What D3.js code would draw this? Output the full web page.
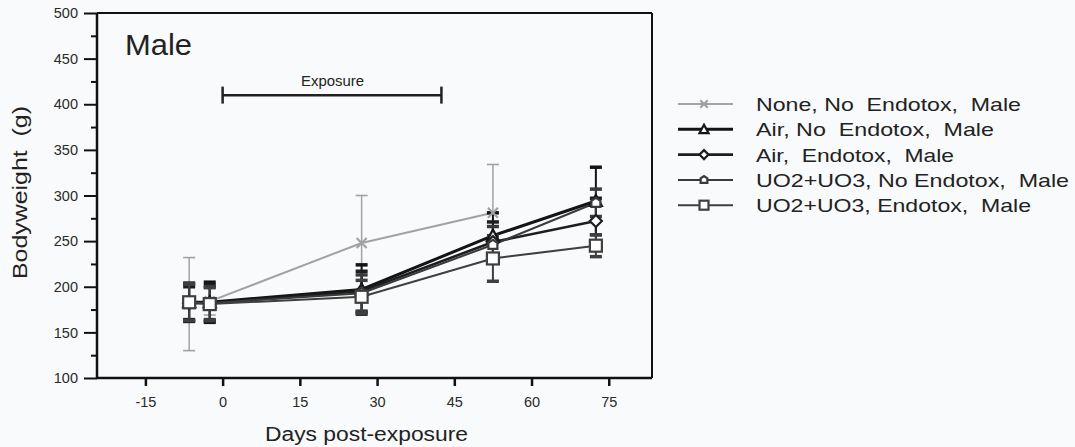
<!DOCTYPE html>
<html>
<head>
<meta charset="utf-8">
<script src="https://cdn.jsdelivr.net/npm/d3@7"></script>
<style>
  body { margin: 0; background: #f8fafb; }
  svg { display: block; font-family: "Liberation Sans", Arial, Helvetica, sans-serif; }
  svg text { white-space: pre; }
</style>
</head>
<body>
<svg id="chart" width="1075" height="447"></svg>
<script>
// data
let days = [-6.5, -2.5, 27, 52.5, 72.5]
let seriesNames = [
    "None, No  Endotox,  Male",
    "Air, No  Endotox,  Male",
    "Air,  Endotox,  Male",
    "UO2+UO3, No Endotox,  Male",
    "UO2+UO3, Endotox,  Male"
]
let noneMean = [181, 184, 248, 281, null]
let noneSd = [51, 15, 52, 53, null]
let airNoMean = [183, 183, 197, 256, 294]
let airNoSd = [21, 22, 27, 25, 37]
let airEndoMean = [182, 182, 195, 249, 272]
let airEndoSd = [18, 20, 22, 22, 25]
let uoNoMean = [183, 182, 193, 246, 292]
let uoNoSd = [20, 18, 20, 20, 15]
let uoEndoMean = [183, 181, 189, 231, 245]
let uoEndoSd = [20, 18, 18, 25, 12]
let xTicks = [-15, 0, 15, 30, 45, 60, 75]
let yTicks = [100, 150, 200, 250, 300, 350, 400, 450, 500]
let exposure = [0, 42.5]
let exposureLevel = 410

// legend text widths measured on the figure (the original font is wider than Arial)
let legendWidths = [265, 238, 198, 313, 275]

let svg = d3.select("#chart")

let xScale = d3.scaleLinear().domain([-24.4, 83.4]).range([97, 652])
let yScale = d3.scaleLinear().domain([100, 500]).range([378, 13])

let styles = [
    { color: "#a2a2a2", width: 2, sym: "x", capW: 1.6 },
    { color: "#141414", width: 3, sym: "tri", capW: 3.5 },
    { color: "#1e1e1e", width: 2.6, sym: "diamond", capW: 3.5 },
    { color: "#3a3a3a", width: 2, sym: "smallsq", capW: 3.5 },
    { color: "#3f3f3f", width: 2, sym: "square", capW: 3.5 }
]

let allMeans = [noneMean, airNoMean, airEndoMean, uoNoMean, uoEndoMean]
let allSds = [noneSd, airNoSd, airEndoSd, uoNoSd, uoEndoSd]

let series = seriesNames.map((name, i) => {
    return {
        name: name,
        style: styles[i],
        points: days.map((d, j) => ({ day: d, mean: allMeans[i][j], sd: allSds[i][j] }))
            .filter(p => p.mean !== null)
    }
})

// axes box
svg.append("line").attr("x1", 97).attr("x2", 652).attr("y1", 13).attr("y2", 13)
    .attr("stroke", "#111").attr("stroke-width", 2)
svg.append("line").attr("x1", 652).attr("x2", 652).attr("y1", 13).attr("y2", 378)
    .attr("stroke", "#111").attr("stroke-width", 2)

let xAxis = d3.axisBottom(xScale).tickValues(xTicks).tickSize(8).tickPadding(11)
    .tickFormat(d => String(d))
let gx = svg.append("g").attr("transform", "translate(0,378)").call(xAxis)
gx.select(".domain").attr("stroke", "#111").attr("stroke-width", 2.5)
    .attr("d", "M97,0H652")
gx.selectAll(".tick line").attr("stroke", "#111").attr("stroke-width", 2.5)
gx.selectAll(".tick text").attr("font-size", 14.5).attr("fill", "#2a2a2a")
    .attr("font-family", "Liberation Sans, Arial, sans-serif")

let minorTicks = d3.range(125, 500, 50)
let gyMinor = svg.append("g").attr("transform", "translate(97,0)")
    .call(d3.axisLeft(yScale).tickValues(minorTicks).tickSize(6).tickFormat(""))
gyMinor.select(".domain").remove()
gyMinor.selectAll(".tick line").attr("stroke", "#111").attr("stroke-width", 2)

let yAxis = d3.axisLeft(yScale).tickValues(yTicks).tickSize(13).tickPadding(6)
let gy = svg.append("g").attr("transform", "translate(97,0)").call(yAxis)
gy.select(".domain").attr("stroke", "#111").attr("stroke-width", 2.5).attr("d", "M0,13V378")
gy.selectAll(".tick line").attr("stroke", "#111").attr("stroke-width", 2)
gy.selectAll(".tick text").attr("font-size", 14.5).attr("fill", "#2a2a2a")
    .attr("font-family", "Liberation Sans, Arial, sans-serif")

// axis titles
svg.append("text").attr("x", 265).attr("y", 441)
    .attr("font-size", 20).attr("fill", "#222")
    .attr("textLength", 203).attr("lengthAdjust", "spacingAndGlyphs")
    .text("Days post-exposure")
svg.append("text").attr("transform", "translate(27,193) rotate(-90)")
    .attr("x", -86).attr("font-size", 20).attr("fill", "#222")
    .attr("textLength", 173).attr("lengthAdjust", "spacingAndGlyphs")
    .text("Bodyweight  (g)")

svg.append("text").attr("x", 125).attr("y", 55)
    .attr("font-size", 29).attr("fill", "#222")
    .attr("textLength", 67).attr("lengthAdjust", "spacingAndGlyphs")
    .text("Male")

// exposure bar
let ey = yScale(exposureLevel)
svg.append("line").attr("x1", xScale(exposure[0])).attr("x2", xScale(exposure[1]))
    .attr("y1", ey).attr("y2", ey).attr("stroke", "#222").attr("stroke-width", 2.5)
exposure.forEach(d => {
    svg.append("line").attr("x1", xScale(d)).attr("x2", xScale(d))
        .attr("y1", ey - 8.5).attr("y2", ey + 8.5).attr("stroke", "#222").attr("stroke-width", 2.5)
})
svg.append("text").attr("x", xScale(d3.mean(exposure)) - 31).attr("y", ey - 9)
    .attr("font-size", 14).attr("fill", "#222")
    .attr("textLength", 63).attr("lengthAdjust", "spacingAndGlyphs")
    .text("Exposure")

let drawSymbol = (g, sym, color, cx, cy, scale) => {
    let s = scale || 1
    if (sym === "x") {
        g.append("path")
            .attr("d", `M${cx - 5 * s},${cy - 5 * s}L${cx + 5 * s},${cy + 5 * s}M${cx - 5 * s},${cy + 5 * s}L${cx + 5 * s},${cy - 5 * s}`)
            .attr("stroke", color).attr("stroke-width", 2.2).attr("fill", "none")
    } else if (sym === "tri") {
        g.append("path")
            .attr("d", `M${cx},${cy - 6 * s}L${cx + 6 * s},${cy + 5 * s}L${cx - 6 * s},${cy + 5 * s}Z`)
            .attr("stroke", color).attr("stroke-width", 2.2).attr("fill", "#fff")
    } else if (sym === "diamond") {
        g.append("path")
            .attr("d", `M${cx},${cy - 6 * s}L${cx + 6 * s},${cy}L${cx},${cy + 6 * s}L${cx - 6 * s},${cy}Z`)
            .attr("stroke", color).attr("stroke-width", 2.2).attr("fill", "#fff")
    } else if (sym === "smallsq") {
        g.append("path")
            .attr("d", `M${cx - 4.5 * s},${cy + 4 * s}L${cx - 4.5 * s},${cy - 2 * s}L${cx},${cy - 5 * s}L${cx + 4.5 * s},${cy - 2 * s}L${cx + 4.5 * s},${cy + 4 * s}Z`)
            .attr("stroke", color).attr("stroke-width", 2.2).attr("fill", "#fff")
    } else {
        g.append("rect").attr("x", cx - 6 * s).attr("y", cy - 6 * s)
            .attr("width", 12 * s).attr("height", 12 * s)
            .attr("stroke", color).attr("stroke-width", 2.2).attr("fill", "#fff")
    }
}

let line = d3.line().x(p => xScale(p.day)).y(p => yScale(p.mean))

let plot = svg.append("g")

// lines first
series.forEach(s => {
    plot.append("path").datum(s.points).attr("d", line)
        .attr("fill", "none").attr("stroke", s.style.color).attr("stroke-width", s.style.width)
})

// error bars
series.forEach(s => {
    s.points.forEach(p => {
        let x = xScale(p.day)
        let y1 = yScale(p.mean + p.sd)
        let y2 = yScale(p.mean - p.sd)
        plot.append("line").attr("x1", x).attr("x2", x).attr("y1", y1).attr("y2", y2)
            .attr("stroke", s.style.color).attr("stroke-width", s.style.sym === "x" ? 1.5 : 2)
        ;[y1, y2].forEach(y => {
            plot.append("line").attr("x1", x - 6).attr("x2", x + 6).attr("y1", y).attr("y2", y)
                .attr("stroke", s.style.color).attr("stroke-width", s.style.capW)
        })
    })
})

// markers
series.forEach(s => {
    s.points.forEach(p => {
        drawSymbol(plot, s.style.sym, s.style.color, xScale(p.day), yScale(p.mean))
    })
})

// legend
let legend = svg.append("g")
series.forEach((s, i) => {
    let y = 104 + i * 25.3
    legend.append("line").attr("x1", 678).attr("x2", 733).attr("y1", y).attr("y2", y)
        .attr("stroke", s.style.color).attr("stroke-width", s.style.width)
    drawSymbol(legend, s.style.sym, s.style.color, 704, y, 0.75)
    legend.append("text").attr("x", 756).attr("y", y + 7)
        .attr("font-size", 19).attr("fill", "#222")
        .attr("textLength", legendWidths[i]).attr("lengthAdjust", "spacingAndGlyphs")
        .text(s.name)
})
</script>
</body>
</html>
